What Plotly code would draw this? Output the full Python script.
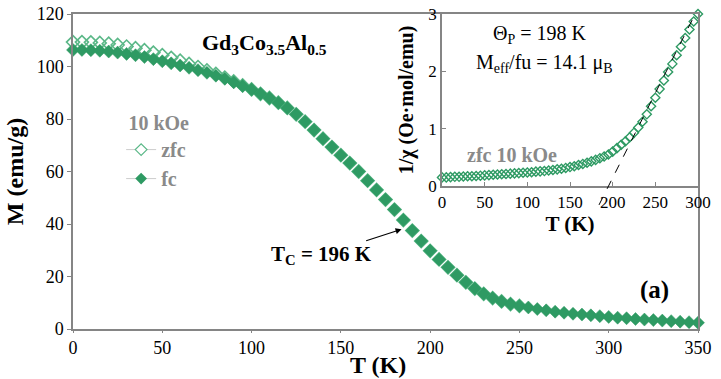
import plotly.graph_objects as go

# ---- data ----
T_fc = list(range(0, 355, 5))
M_fc = [106.3, 106.3, 106.2, 106.0, 105.7, 105.3, 104.8, 104.3, 103.6, 102.8,
        102.0, 101.2, 100.4, 99.5, 98.6, 97.6, 96.5, 95.3, 94.0, 92.6,
        91.2, 89.6, 88.0, 86.2, 84.2, 81.8, 79.0, 75.8, 72.5, 69.3,
        66.2, 63.2, 60.0, 56.5, 53.0, 49.3, 45.5, 41.5, 37.5, 33.5,
        29.8, 26.5, 23.5, 20.5, 17.8, 15.4, 13.4, 11.8, 10.5, 9.5,
        8.8, 8.2, 7.6, 7.1, 6.6, 6.2, 5.8, 5.5, 5.2, 4.9,
        4.6, 4.3, 4.1, 3.8, 3.6, 3.4, 3.2, 3.0, 2.8, 2.6, 2.4]

T_zfc = list(range(0, 255, 5))
M_zfc = [109.3, 109.3, 109.2, 109.0, 108.7, 108.2, 107.6, 107.0, 106.2, 105.3,
         104.3, 103.3, 102.2, 101.0, 99.8, 98.5, 97.2, 95.8, 94.3, 92.8,
         91.3, 89.6, 88.0, 86.2, 84.2, 81.8, 79.0, 75.8, 72.5, 69.3,
         66.2, 63.2, 60.0, 56.5, 53.0, 49.3, 45.5, 41.5, 37.5, 33.5,
         29.8, 26.5, 23.5, 20.5, 17.8, 15.4, 13.4, 11.8, 10.5, 9.5, 8.8]

T_inv = list(range(0, 305, 5))
inv_chi = [0.15, 0.15, 0.155, 0.16, 0.16, 0.165, 0.17, 0.17, 0.175, 0.18,
           0.185, 0.19, 0.195, 0.2, 0.205, 0.21, 0.215, 0.22, 0.225, 0.23,
           0.235, 0.24, 0.25, 0.255, 0.26, 0.27, 0.28, 0.29, 0.3, 0.315,
           0.33, 0.345, 0.365, 0.385, 0.405, 0.43, 0.455, 0.485, 0.515, 0.55,
           0.6, 0.66, 0.72, 0.78, 0.85, 0.93, 1.02, 1.12, 1.25, 1.39,
           1.54, 1.69, 1.84, 1.99, 2.13, 2.28, 2.43, 2.58, 2.73, 2.87, 3.0]

fit_T = [184, 304.5]
fit_v = [-0.33, 3.23]

Tc_point = (184, 38)

GREEN = "#2e9a63"
LIGHTGREEN = "#5bb888"
GRAY = "#8a8a8a"
AX = "#858585"
FONT = "Times New Roman, Liberation Serif, serif"

fig = go.Figure()

# main data
fig.add_trace(go.Scatter(x=T_zfc, y=M_zfc, mode="markers", showlegend=False,
                         cliponaxis=False,
                         marker=dict(symbol="diamond-open", size=10, color=LIGHTGREEN,
                                     line=dict(width=1.6, color=GREEN))))
fig.add_trace(go.Scatter(x=T_fc, y=M_fc, mode="markers", showlegend=False,
                         cliponaxis=False,
                         marker=dict(symbol="diamond", size=10, color=GREEN,
                                     line=dict(width=0.5, color=GREEN))))
# legend entries
fig.add_trace(go.Scatter(x=[None], y=[None], mode="lines+markers", name="zfc",
                         line=dict(color="#cccccc", width=1),
                         marker=dict(symbol="diamond", size=9, color="white",
                                     line=dict(width=1.2, color=LIGHTGREEN))))
fig.add_trace(go.Scatter(x=[None], y=[None], mode="lines+markers", name="fc",
                         line=dict(color="#cccccc", width=1),
                         marker=dict(symbol="diamond", size=9, color=GREEN)))

# fit line on an overlay subplot sharing the inset scales, reaching below the frame
fig.add_trace(go.Scatter(x=fit_T, y=fit_v, mode="lines", showlegend=False,
                         xaxis="x3", yaxis="y3",
                         line=dict(color="black", width=1, dash="dash")))
# inset data
fig.add_trace(go.Scatter(x=T_inv, y=inv_chi, mode="markers", showlegend=False,
                         xaxis="x2", yaxis="y2", cliponaxis=False,
                         marker=dict(symbol="diamond-open", size=7, color=GREEN,
                                     line=dict(width=1.4, color=GREEN))))

ix0, ix1 = 0.5904, 1.0
iy0, iy1 = 0.454, 1.0
ext = 0.07
y3_low = -3.0 * ext / (iy1 - iy0)

tickfont = dict(family=FONT, size=18, color="black")
fig.update_layout(
    width=721, height=379,
    margin=dict(l=73, r=23, t=14, b=50, autoexpand=False),
    paper_bgcolor="white", plot_bgcolor="rgba(0,0,0,0)",
    font=dict(family=FONT, color="black"),
    xaxis=dict(range=[0, 350], dtick=50, showgrid=False, zeroline=False, automargin=False,
               showline=True, linecolor=AX, linewidth=1.5, mirror=True,
               ticks="outside", ticklen=2, tickcolor=AX, tickfont=tickfont),
    yaxis=dict(range=[0, 120], dtick=20, showgrid=False, zeroline=False, automargin=False,
               showline=True, linecolor=AX, linewidth=1.5, mirror=True,
               ticks="outside", ticklen=4, tickcolor=AX, tickfont=tickfont,
               title=dict(text="<b>M (emu/g)</b>", font=dict(family=FONT, size=24), standoff=6)),
    xaxis2=dict(domain=[ix0, ix1], anchor="y2", range=[0, 300], dtick=50, automargin=False,
                showgrid=False, zeroline=False, showline=True, linecolor=AX,
                linewidth=1.5, mirror=True, ticks="inside", ticklen=4, tickcolor=AX,
                tickfont=dict(family=FONT, size=17, color="black"),
                title=dict(text="<b>T (K)</b>", font=dict(family=FONT, size=21), standoff=0)),
    yaxis2=dict(domain=[iy0, iy1], anchor="x2", range=[0, 3], dtick=1, automargin=False,
                showgrid=False, zeroline=False, showline=True, linecolor=AX,
                linewidth=1.5, mirror=True, ticks="inside", ticklen=4, tickcolor=AX,
                tickfont=dict(family=FONT, size=17, color="black"),
                title=dict(text="<b>1/χ (Oe·mol/emu)</b>", font=dict(family=FONT, size=20), standoff=9)),
    xaxis3=dict(domain=[ix0, ix1], anchor="y3", range=[0, 300], visible=False),
    yaxis3=dict(domain=[iy0 - ext, iy1], anchor="x3", range=[y3_low, 3], visible=False),
    legend=dict(x=0.077, y=0.714, xanchor="left", yanchor="top",
                bgcolor="rgba(0,0,0,0)", tracegroupgap=0,
                font=dict(family=FONT, size=20, color=GRAY, weight="bold"),
                title=dict(text="10 kOe", side="top right",
                           font=dict(family=FONT, size=20, color=GRAY, weight="bold"))),
)

C = dict(xanchor="center", yanchor="middle", showarrow=False)
fig.add_annotation(text="<b>T (K)</b>", xref="paper", yref="paper", x=0.488, y=-0.114,
                   font=dict(family=FONT, size=24, color="black"), **C)
fig.add_annotation(text="<b>Gd<sub>3</sub>Co<sub>3.5</sub>Al<sub>0.5</sub></b>",
                   xref="paper", yref="paper", x=0.307, y=0.905,
                   font=dict(family=FONT, size=22, color="black"), **C)
fig.add_annotation(text="<b>(a)</b>", xref="paper", yref="paper", x=0.931, y=0.124,
                   font=dict(family=FONT, size=25, color="black"), **C)
fig.add_annotation(text="<b>T<sub>C</sub> = 196 K</b>", x=Tc_point[0], y=Tc_point[1],
                   xref="x", yref="y", showarrow=True, arrowhead=2, arrowsize=1,
                   arrowwidth=1.2, arrowcolor="black", ax=-80, ay=26,
                   font=dict(family=FONT, size=21, color="black"))
fig.add_annotation(text="Θ<sub>P</sub> = 198 K", xref="x2 domain", yref="y2 domain",
                   x=0.383, y=0.879,
                   font=dict(family=FONT, size=20, color="black"), **C)
fig.add_annotation(text="M<sub>eff</sub>/fu = 14.1 μ<sub>B</sub>", xref="x2 domain",
                   yref="y2 domain", x=0.402, y=0.711,
                   font=dict(family=FONT, size=20, color="black"), **C)
fig.add_annotation(text="<b>zfc 10 kOe</b>", xref="x2 domain", yref="y2 domain",
                   x=0.273, y=0.179,
                   font=dict(family=FONT, size=20, color=GRAY), **C)

fig.write_html("out.html", config={"displayModeBar": False},
               post_script="document.body.style.margin='0px';")
